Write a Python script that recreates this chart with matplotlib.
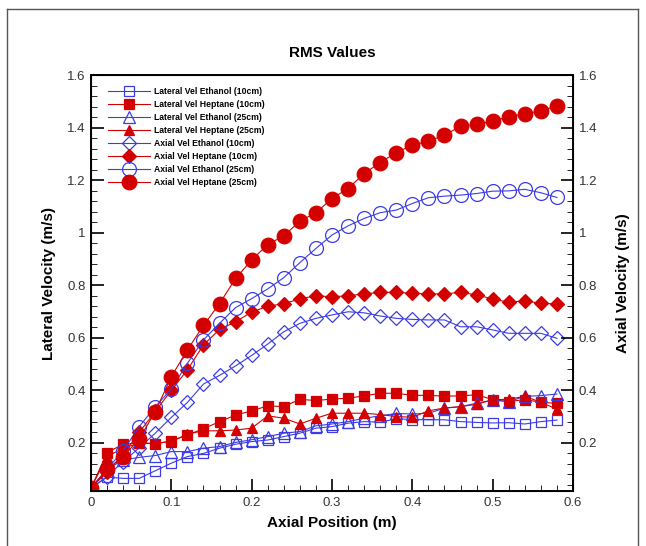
import matplotlib
matplotlib.use("Agg")
import matplotlib.pyplot as plt
from matplotlib.lines import Line2D
from matplotlib.ticker import MultipleLocator, FixedLocator

plt.rcParams['font.family'] = ['Liberation Sans', 'DejaVu Sans']

x = [0.00, 0.02, 0.04, 0.06, 0.08, 0.10, 0.12, 0.14, 0.16, 0.18,
     0.20, 0.22, 0.24, 0.26, 0.28, 0.30, 0.32, 0.34, 0.36, 0.38,
     0.40, 0.42, 0.44, 0.46, 0.48, 0.50, 0.52, 0.54, 0.56, 0.58]

lat_eth_10 = [0.028, 0.070, 0.065, 0.065, 0.094, 0.123, 0.148, 0.160, 0.180, 0.195,
              0.205, 0.211, 0.224, 0.237, 0.256, 0.262, 0.275, 0.281, 0.279, 0.292,
              0.289, 0.288, 0.288, 0.281, 0.278, 0.276, 0.277, 0.272, 0.281, 0.287]
lat_hep_10 = [0.028, 0.163, 0.195, 0.199, 0.197, 0.207, 0.230, 0.254, 0.281, 0.306,
              0.322, 0.341, 0.338, 0.366, 0.361, 0.367, 0.370, 0.379, 0.389, 0.389,
              0.381, 0.381, 0.378, 0.379, 0.383, 0.365, 0.357, 0.365, 0.355, 0.350]
lat_eth_25 = [0.028, 0.100, 0.135, 0.145, 0.152, 0.167, 0.167, 0.180, 0.186, 0.202,
              0.212, 0.224, 0.237, 0.243, 0.265, 0.272, 0.281, 0.294, 0.303, 0.312,
              0.310, 0.313, 0.332, 0.338, 0.351, 0.363, 0.357, 0.377, 0.380, 0.386]
lat_hep_25 = [0.028, 0.148, 0.180, 0.199, 0.199, 0.205, 0.234, 0.246, 0.246, 0.249,
              0.256, 0.303, 0.294, 0.272, 0.294, 0.313, 0.313, 0.313, 0.308, 0.300,
              0.298, 0.322, 0.333, 0.338, 0.347, 0.364, 0.366, 0.377, 0.355, 0.328]
ax_eth_10 = [0.028, 0.072, 0.129, 0.181, 0.237, 0.297, 0.354, 0.424, 0.457, 0.493,
             0.533, 0.576, 0.623, 0.655, 0.674, 0.687, 0.699, 0.695, 0.683, 0.674,
             0.670, 0.668, 0.668, 0.642, 0.642, 0.630, 0.617, 0.617, 0.617, 0.598]
ax_hep_10 = [0.028, 0.090, 0.155, 0.240, 0.320, 0.400, 0.478, 0.573, 0.632, 0.661,
             0.698, 0.720, 0.730, 0.748, 0.760, 0.756, 0.760, 0.767, 0.773, 0.773,
             0.769, 0.767, 0.767, 0.773, 0.763, 0.748, 0.735, 0.741, 0.731, 0.729]
ax_eth_25 = [0.028, 0.100, 0.170, 0.262, 0.338, 0.405, 0.503, 0.592, 0.655, 0.715,
             0.749, 0.786, 0.829, 0.886, 0.940, 0.991, 1.026, 1.054, 1.076, 1.086,
             1.111, 1.133, 1.139, 1.143, 1.149, 1.158, 1.159, 1.165, 1.152, 1.134]
ax_hep_25 = [0.028, 0.100, 0.148, 0.215, 0.319, 0.452, 0.554, 0.647, 0.730, 0.826,
             0.896, 0.955, 0.988, 1.044, 1.076, 1.130, 1.168, 1.225, 1.267, 1.305,
             1.333, 1.348, 1.371, 1.405, 1.412, 1.425, 1.441, 1.453, 1.463, 1.483]

labels = ["Lateral Vel Ethanol (10cm)", "Lateral Vel Heptane (10cm)",
          "Lateral Vel Ethanol (25cm)", "Lateral Vel Heptane (25cm)",
          "Axial Vel Ethanol (10cm)", "Axial Vel Heptane (10cm)",
          "Axial Vel Ethanol (25cm)", "Axial Vel Heptane (25cm)"]

x_ticks = [0, 0.1, 0.2, 0.3, 0.4, 0.5, 0.6]
x_ticklabels = ["0", "0.1", "0.2", "0.3", "0.4", "0.5", "0.6"]
y_ticks = [0.2, 0.4, 0.6, 0.8, 1.0, 1.2, 1.4, 1.6]
y_ticklabels = ["0.2", "0.4", "0.6", "0.8", "1", "1.2", "1.4", "1.6"]

RED = '#d40000'
BLUE = '#3c3ce6'

fig = plt.figure(figsize=(6.46, 5.46), dpi=100)
ax = fig.add_axes([91/646, 1-491/546, (573-91)/646, (491-75)/546])

series = [
    (lat_eth_10, BLUE, 's', 7.5, 'none'),
    (lat_hep_10, RED, 's', 7, RED),
    (lat_eth_25, BLUE, '^', 8, 'none'),
    (lat_hep_25, RED, '^', 7.5, RED),
    (ax_eth_10, BLUE, 'D', 7, 'none'),
    (ax_hep_10, RED, 'D', 7, RED),
    (ax_eth_25, BLUE, 'o', 10, 'none'),
    (ax_hep_25, RED, 'o', 10.5, RED),
]
handles = []
for (vals, col, mk, ms, fc), lab in zip(series, labels):
    h, = ax.plot(x, vals, color=col, lw=0.8, marker=mk, ms=ms,
                 mfc=fc, mec=col, mew=0.9, label=lab)
    handles.append(h)

ax.set_xlim(0, 0.6)
ax.set_ylim(0.017, 1.6)
ax.xaxis.set_major_locator(FixedLocator(x_ticks))
ax.set_xticklabels(x_ticklabels)
ax.xaxis.set_minor_locator(MultipleLocator(0.02))
ax.yaxis.set_major_locator(FixedLocator(y_ticks))
ax.set_yticklabels(y_ticklabels)
ax.yaxis.set_minor_locator(MultipleLocator(0.04))
ax.tick_params(which='major', direction='in', length=9, width=1.2,
               labelsize=9.5, colors='black', labelcolor='#333333', pad=4)
ax.tick_params(which='minor', direction='in', length=4.5, width=0.6)
ax.tick_params(top=False, right=False, which='both')
for s in ax.spines.values():
    s.set_linewidth(1.4)

ax2 = ax.twinx()
ax2.set_ylim(0.017, 1.6)
ax2.yaxis.set_major_locator(FixedLocator(y_ticks))
ax2.set_yticklabels(y_ticklabels)
ax2.yaxis.set_minor_locator(MultipleLocator(0.04))
ax2.tick_params(which='major', direction='in', length=9, width=1.2,
                labelsize=9.5, labelcolor='#333333', pad=4)
ax2.tick_params(which='minor', direction='in', length=4.5, width=0.6)

ax.set_xlabel("Axial Position (m)", fontsize=11, fontweight='bold', labelpad=5)
ax.set_ylabel("Lateral Velocity (m/s)", fontsize=11, fontweight='bold', labelpad=8)
ax2.set_ylabel("Axial Velocity (m/s)", fontsize=11, fontweight='bold', labelpad=14)
ax.set_title("RMS Values", fontsize=11, fontweight='bold', pad=13)

leg = ax.legend(handles=handles, loc='upper left', frameon=False,
                prop={'size': 6.2, 'weight': 'bold'}, handlelength=4.9,
                labelspacing=0.45, borderaxespad=0.0, borderpad=0.0,
                handletextpad=0.5, bbox_to_anchor=(0.035, 0.970))

# outer frame
fig.add_artist(Line2D([7/646, 7/646], [0, 1-9/546], color='#555555', lw=1.0))
fig.add_artist(Line2D([7/646, 638/646], [1-9/546, 1-9/546], color='#555555', lw=1.0))
fig.add_artist(Line2D([638/646, 638/646], [0, 1-9/546], color='#555555', lw=1.0))

fig.savefig("out.png", dpi=100)
